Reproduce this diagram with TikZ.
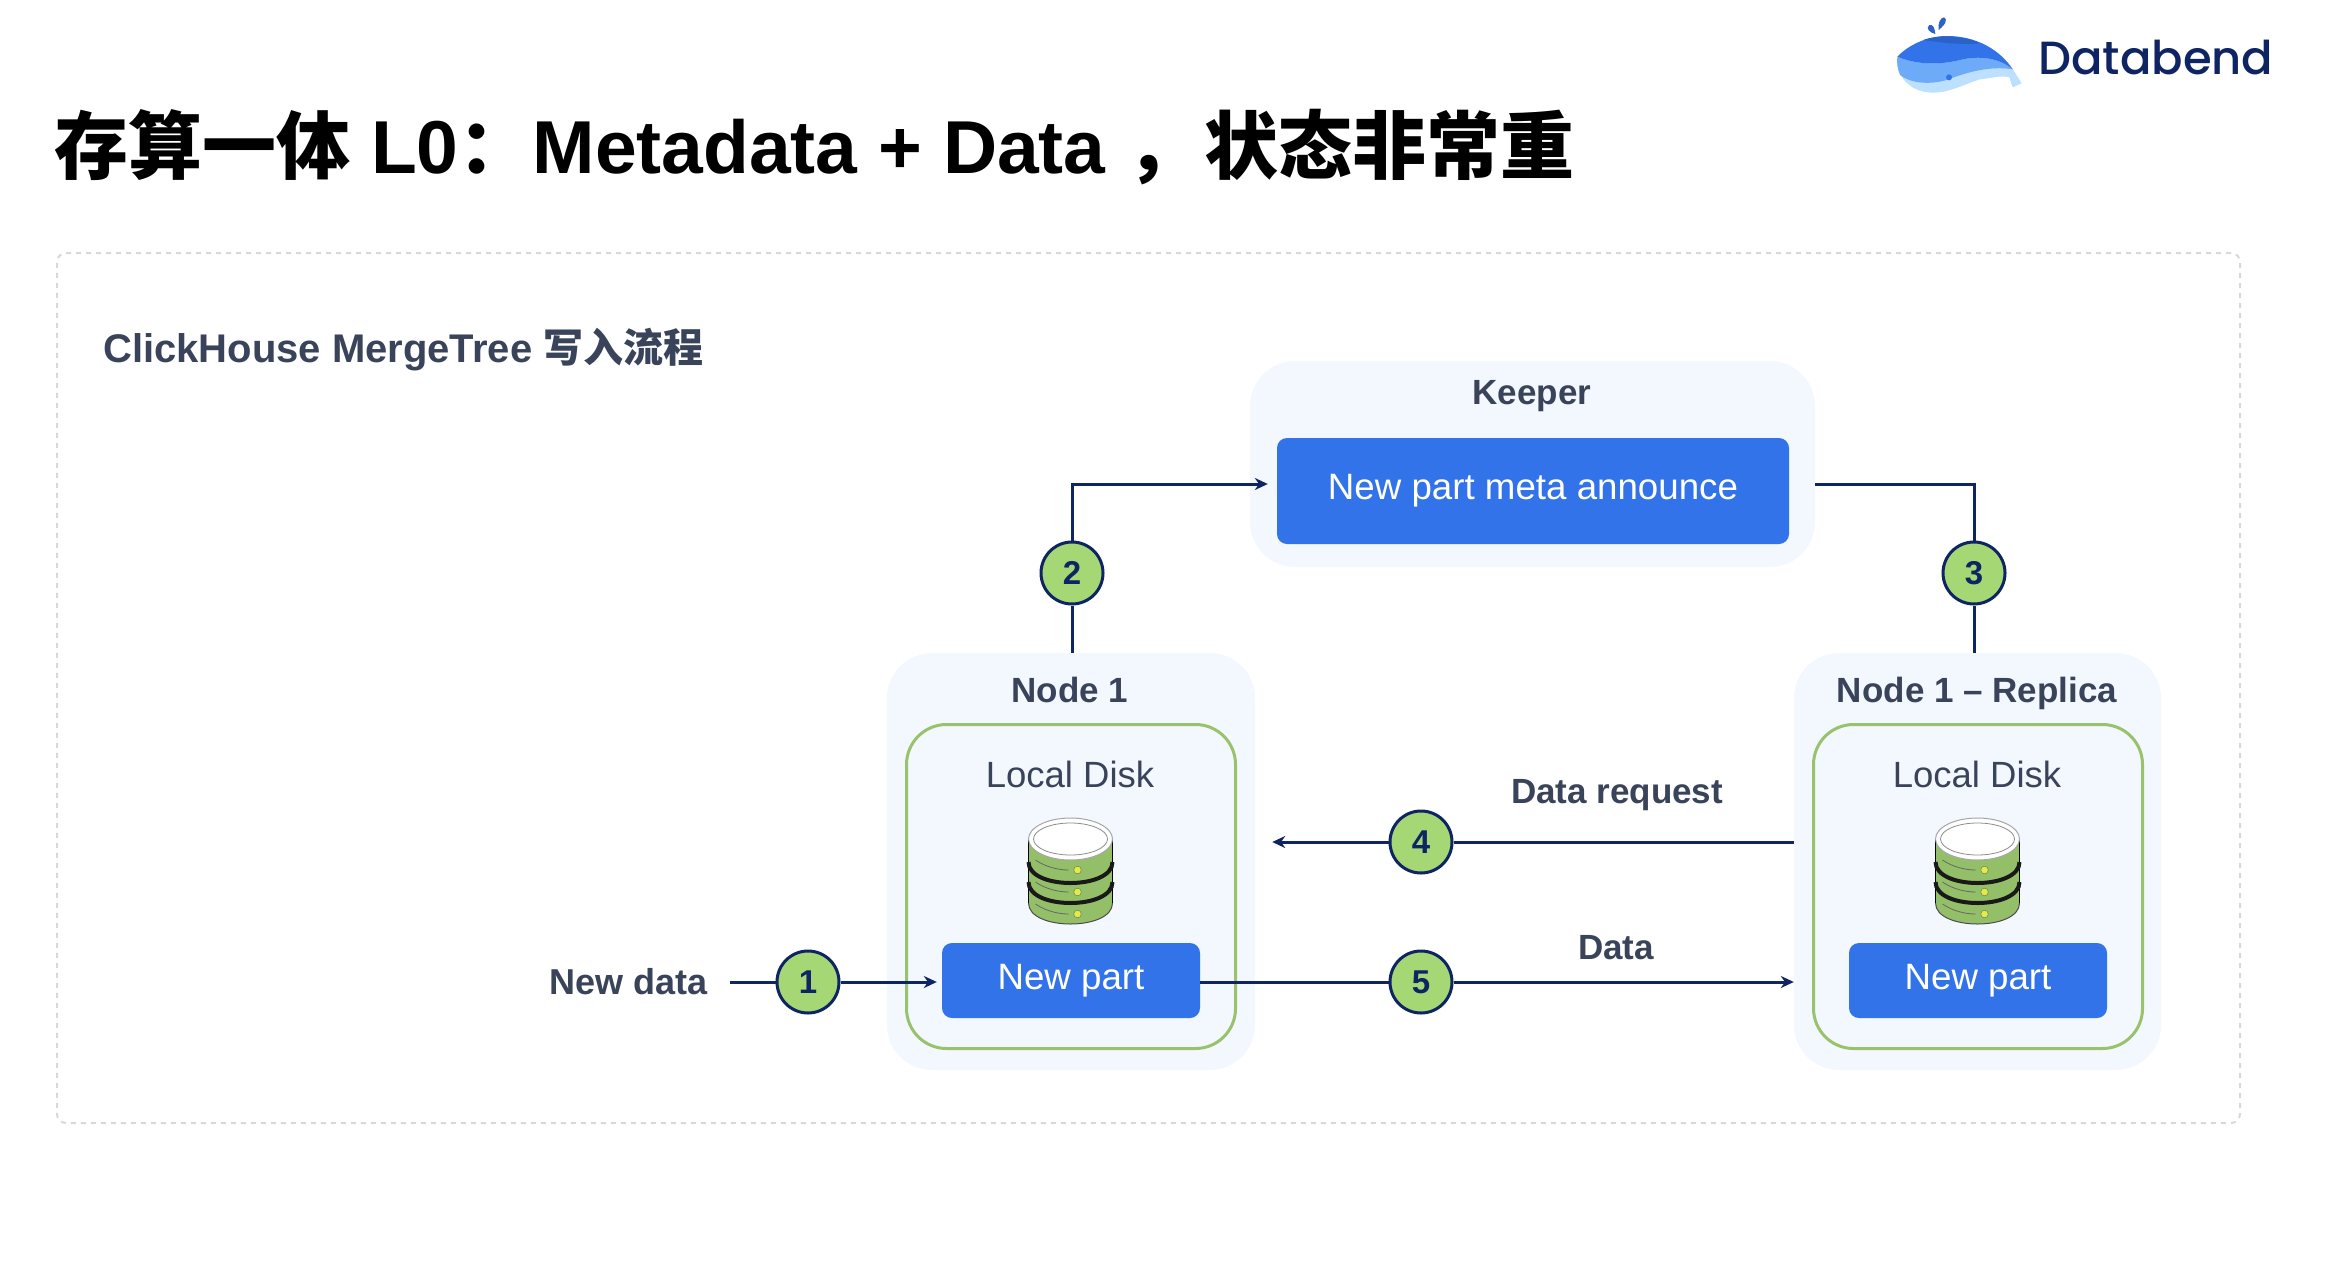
\documentclass[tikz,border=0pt]{standalone}
\usepackage{xcolor}
\usepackage{fontspec}
\usepackage{tikz}
\usetikzlibrary{arrows.meta}
\setmainfont{Liberation Sans}
\newfontfamily\cjkfont{Noto Sans CJK SC}
\newfontfamily\logofont[UprightFont={* Medium}]{Poppins}
\definecolor{dbnavy}{HTML}{0E2463}
\definecolor{dbblue}{HTML}{3373E9}
\definecolor{dbdeep}{HTML}{2A62C8}
\definecolor{dbmid}{HTML}{6DABF8}
\definecolor{dbpale}{HTML}{BDE0FF}
\definecolor{dbpanel}{HTML}{F3F7FE}
\definecolor{dbgreen}{HTML}{98C36C}
\definecolor{dbbadge}{HTML}{A5D774}
\definecolor{dbtext}{HTML}{39435A}
\definecolor{dbdash}{HTML}{D8D8D8}
\definecolor{dbdisk}{HTML}{94BF69}
\definecolor{dbled}{HTML}{E4E94C}
\newcommand{\fsz}[1]{\fontsize{#1}{#1}\selectfont}
\tikzset{
    framebox/.style={draw=dbdash,line width=2pt,dash pattern=on 5pt off 5pt,rounded corners=9pt,inner sep=0pt},
    panelbox/.style={fill=dbpanel,rounded corners=45pt,inner sep=0pt},
    diskbox/.style={draw=dbgreen,line width=3pt,fill=dbpanel,rounded corners=40pt,inner sep=0pt},
    bluebox/.style={fill=dbblue,text=white,rounded corners=10pt,inner sep=0pt,font=\fsz{36.7}},
    badge/.style={circle,draw=dbnavy,fill=dbbadge,line width=3pt,minimum size=62pt,inner sep=0pt,text=dbnavy,font=\fsz{33}\bfseries},
    boldlabel/.style={anchor=base,text=dbtext,font=\fsz{35}\bfseries,inner sep=0pt},
    plainlabel/.style={anchor=base,text=dbtext,font=\fsz{36.5},inner sep=0pt},
    link/.style={draw=dbnavy,line width=3pt},
    linkarrow/.style={link,-{Stealth[length=13pt,width=12pt]}},
    disk/.pic={
        \fill[dbdisk] (-42,-32) -- (-42,32) .. controls (-42,60) and (42,60) .. (42,32) -- (42,-32) -- cycle;
        \draw[black!70,line width=1pt] (-42,32) .. controls (-42,60) and (42,60) .. (42,32);
        \draw[black,line width=1.5pt] (-42,-32) -- (-42,32) (42,-32) -- (42,32);
        \draw[black!90,line width=4pt] (-42,-9) .. controls (-42,19) and (42,19) .. (42,-9);
        \draw[black!90,line width=4pt] (-42,11) .. controls (-42,39) and (42,39) .. (42,11);
        \foreach \dy in {0,22,44} {
            \draw[black!60,line width=.8pt,yshift=-\dy pt] (-35,-11) .. controls (-25,-4) and (-12,-1) .. (-2,-1);
            \fill[dbled,draw=dbdisk!70!black,line width=.5pt] (7,-1+\dy) circle (3.8);
        }
        \fill[white,draw=black!35,line width=1pt] (0,-32) ellipse [x radius=42,y radius=21];
        \draw[black!45,line width=.8pt] (0,-32) ellipse [x radius=37,y radius=16];
    }
}
\begin{document}
\begin{tikzpicture}[x=1pt,y=-1pt]
    \useasboundingbox (0,0) rectangle (2336,1266);

    \node[anchor=base west,inner sep=0pt,font=\fsz{75}\bfseries] (title) at (54,173)
        {{\fsz{74}\cjkfont\bfseries 存算一体} L0{\fsz{74}\cjkfont\bfseries ：}Metadata + Data {\fsz{74}\cjkfont\bfseries ，}\hspace{4pt}{\fsz{74}\cjkfont\bfseries 状态非常重}};

    % logo
    \begin{scope}[shift={(1880,0)},x=.3333pt,y=-.3333pt]
        \fill[dbpale] (52,175) .. controls (90,130) and (150,108) .. (200,108)
            .. controls (290,108) and (360,150) .. (400,210) -- (425,250) -- (398,262) -- (388,232)
            .. controls (360,225) and (335,235) .. (300,238) .. controls (260,250) and (210,278) .. (160,278)
            .. controls (100,278) and (50,240) .. (52,175) -- cycle;
        \fill[dbmid] (52,170) .. controls (110,195) and (180,195) .. (240,180)
            .. controls (300,165) and (360,175) .. (398,208) .. controls (350,200) and (290,205) .. (200,240)
            .. controls (150,255) and (90,250) .. (60,225) .. controls (52,205) and (50,190) .. (52,170) -- cycle;
        \fill[dbblue] (52,170) .. controls (90,130) and (150,108) .. (200,108)
            .. controls (290,108) and (360,150) .. (398,208) .. controls (360,175) and (300,165) .. (240,180)
            .. controls (180,195) and (110,195) .. (52,170) -- cycle;
        \fill[dbdeep] (130,120) .. controls (170,105) and (250,105) .. (300,130)
            .. controls (240,135) and (180,128) .. (130,120) -- cycle;
        \fill[dbblue] (207,232) circle (9);
        \fill[dbdeep] (166,102) .. controls (150,98) and (135,85) .. (148,75)
            .. controls (160,72) and (164,85) .. (166,102) -- cycle;
        \fill[dbdeep] (176,90) .. controls (172,70) and (182,52) .. (192,52)
            .. controls (205,58) and (195,75) .. (176,90) -- cycle;
    \end{scope}
    \node[anchor=base west,inner sep=0pt,text=dbnavy,font=\fsz{46.5}\logofont] (logo) at (2038,74) {Databend};

    \node[framebox,minimum width=2183pt,minimum height=870pt] (frame) at (1148.5,688) {};
    \node[anchor=base west,inner sep=0pt,text=dbtext,font=\fsz{40}\bfseries] (heading) at (103,362)
        {ClickHouse MergeTree {\cjkfont\bfseries 写入流程}};

    % keeper
    \node[panelbox,minimum width=565pt,minimum height=206pt] (keeper) at (1532.5,464) {};
    \node[boldlabel] (keepertitle) at (1532,404) {Keeper};
    \node[bluebox,minimum width=512pt,minimum height=106pt] (announce) at (1533,491) {New part meta announce};

    % node 1
    \node[panelbox,minimum width=368pt,minimum height=417pt] (node1) at (1071,861.5) {};
    \node[boldlabel] (node1title) at (1070,702) {Node 1};
    \node[diskbox,minimum width=329pt,minimum height=324pt] (disk1) at (1071,886.5) {};
    \node[plainlabel] (disk1title) at (1070,787) {Local Disk};
    \pic at (1070.5,871) {disk};
    \node[bluebox,minimum width=258pt,minimum height=75pt] (part1) at (1071,980.5) {\raisebox{3pt}{New part}};

    % replica
    \node[panelbox,minimum width=367pt,minimum height=417pt] (node2) at (1977.5,861.5) {};
    \node[boldlabel] (node2title) at (1977,702) {Node 1 -- Replica};
    \node[diskbox,minimum width=329pt,minimum height=324pt] (disk2) at (1978,886.5) {};
    \node[plainlabel] (disk2title) at (1977,787) {Local Disk};
    \pic at (1977.5,871) {disk};
    \node[bluebox,minimum width=258pt,minimum height=75pt] (part2) at (1978,980.5) {\raisebox{3pt}{New part}};

    \node[badge] (step1) at (808,982) {1};
    \node[badge] (step2) at (1072,573) {2};
    \node[badge] (step3) at (1974,573) {3};
    \node[badge] (step4) at (1421,842) {4};
    \node[badge] (step5) at (1421,982) {5};

    \node[anchor=east,text=dbtext,font=\fsz{36}\bfseries,inner xsep=22pt,inner ysep=0pt] (newdata) at (730,982) {New data};
    \node[boldlabel] (reqlabel) at (1617,803) {Data request};
    \node[boldlabel] (datalabel) at (1616,959) {Data};

    \draw[link] (newdata) -- (step1);
    \draw[linkarrow,shorten >=5pt] (step1) -- (part1.west |- step1);
    \draw[link] (step2 |- node1.north) -- (step2);
    \draw[linkarrow,shorten >=9pt] (step2) |- ([yshift=7pt]announce.west);
    \draw[link] ([yshift=-20pt]keeper.east) -| (step3);
    \draw[link] (step3) -- (step3 |- node2.north);
    \draw[link] (node2.west |- step4) -- (step4);
    \draw[linkarrow,shorten >=17pt] (step4) -- (node1.east |- step4);
    \draw[link] (part1.east |- step5) -- (step5);
    \draw[linkarrow] (step5) -- (node2.west |- step5);
\end{tikzpicture}
\end{document}
